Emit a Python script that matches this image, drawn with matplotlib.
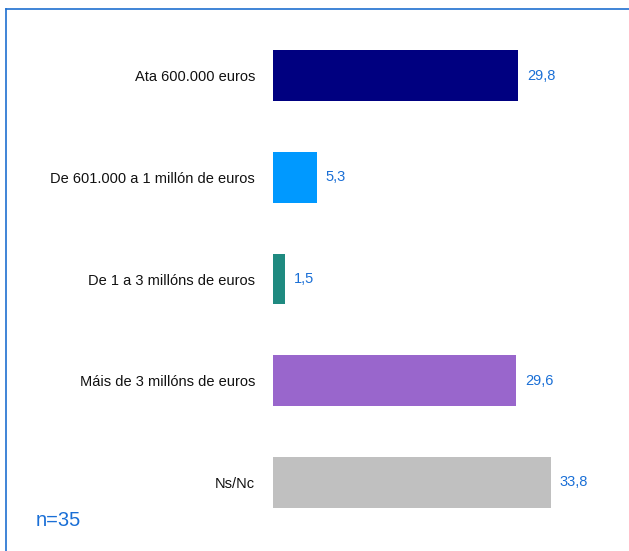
import matplotlib.pyplot as plt
from matplotlib.lines import Line2D

categorias = ["Ata 600.000 euros", "De 601.000 a 1 millón de euros",
              "De 1 a 3 millóns de euros", "Máis de 3 millóns de euros", "Ns/Nc"]
valores = [29.8, 5.3, 1.5, 29.6, 33.8]
cores = ["#000080", "#0099FF", "#1F8A80", "#9966CC", "#C0C0C0"]
etiquetas = ["29,8", "5,3", "1,5", "29,6", "33,8"]

plt.rcParams['font.family'] = ['Liberation Sans', 'DejaVu Sans']

W, H = 629, 551
fig = plt.figure(figsize=(W / 100, H / 100), dpi=100)

# eixo colocado en pixeles
x0, x1 = 273, 600
y_top, y_bot = 25, 533
ax = fig.add_axes([x0 / W, 1 - y_bot / H, (x1 - x0) / W, (y_bot - y_top) / H])

pos = list(range(len(categorias)))
ax.barh(pos, valores, height=0.5, color=cores)
ax.set_ylim(len(categorias) - 0.5, -0.5)
ax.set_xlim(0, (x1 - x0) / 8.22)

for p, v, t in zip(pos, valores, etiquetas):
    ax.annotate(t, (v, p), xytext=(9, 0), textcoords='offset pixels',
                va='center', ha='left', fontsize=10.5, color='#1A6FD6')

ax.set_yticks(pos)
ax.set_yticklabels(categorias, fontsize=10.5, color='#111111')
ax.tick_params(axis='y', length=0, pad=13)
ax.set_xticks([])
for s in ax.spines.values():
    s.set_visible(False)

fig.text(36 / W, 1 - 520 / H, "n=35", fontsize=14.5, color='#1A6FD6', va='center', ha='left')

# marco azul (arriba e esquerda)
fig.add_artist(Line2D([6 / W, 1], [1 - 9 / H, 1 - 9 / H], color='#1F6FCF', lw=1.2,
                      transform=fig.transFigure))
fig.add_artist(Line2D([6 / W, 6 / W], [0, 1 - 9 / H], color='#1F6FCF', lw=1.2,
                      transform=fig.transFigure))

fig.savefig("out.png", dpi=100)
